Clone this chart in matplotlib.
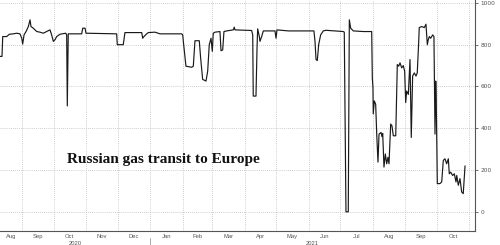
import matplotlib
matplotlib.use('Agg')
import matplotlib.pyplot as plt
import matplotlib.dates as mdates
import matplotlib.transforms as mtransforms
import numpy as np
import pandas as pd

start = pd.Timestamp('2020-08-11')
days = [0, 1.9, 2.6, 6.4, 8.9, 12.7, 15.9, 19, 20.7, 21.6, 22.9, 24.8, 27, 28.6,
        29.5, 31.7, 35, 38.1, 41.2, 44.5, 47.6, 49.2, 50.8, 52.4, 54, 57.1, 62.6,
        63.5, 64.1, 65, 77.8, 78.8, 81, 81.9, 111.1, 111.7, 117.4, 119, 135, 135.9,
        137.1, 139.7, 141.2, 147.6, 152.4, 173, 174, 174.6, 177.1, 182.6, 184.1,
        185.7, 189.8, 191.1, 193, 196.2, 197.8, 199.3, 201, 202.2, 203.1, 204.8,
        209.5, 210.5, 212.1, 213.3, 215.9, 222.2, 223.1, 223.8, 239.7, 240.7,
        241.2, 243.8, 244.8, 245.4, 247, 247.6, 249.2, 250.8, 261.9, 262.9, 263.8,
        274.6, 299, 300, 301, 302.2, 303.5, 305.4, 307.9, 310.5, 327, 327.9, 329.5,
        331.7, 332.7, 334, 336.5, 346, 354, 354.6, 355.2, 355.5, 356.5, 357.8,
        358.8, 360, 361, 362.9, 363.8, 364.5, 365.7, 367, 368.3, 369.5, 370.5,
        372.1, 373.3, 374.6, 376.9, 378.4, 379.7, 381, 382.6, 384.1, 385.4, 386.4,
        387.3, 388.9, 390.5, 391.7, 393, 394.6, 396.2, 397.4, 398.8, 399.3, 401.6,
        404.1, 405.7, 407, 407.9, 408.9, 410.2, 412.1, 413.3, 414.3, 415, 415.5,
        416.5, 419, 420.7, 422.2, 423.8, 425.4, 427, 427.9, 429.2, 431.1, 432.7,
        434.3, 435, 436.5, 438.1, 439.7, 441.2, 442.9]
flow = [744, 744, 839, 839, 850, 852, 855, 852, 831, 803, 847, 863, 887, 919,
        887, 879, 863, 860, 855, 863, 871, 847, 816, 824, 839, 850, 855,
        847, 507, 852, 852, 879, 879, 855, 852, 800, 800, 858, 858, 831,
        839, 852, 858, 860, 852, 852, 847, 816, 697, 692, 697,
        819, 819, 736, 634, 626, 673, 800, 831, 768, 855, 860,
        863, 771, 775, 863, 866, 871, 884, 871, 868, 847,
        554, 554, 784, 876, 839, 816, 839, 866, 866, 831, 871,
        866, 866, 816, 729, 724, 800, 847, 866, 869, 863, 860, 0,
        0, 919, 879, 866, 863, 863, 641, 594, 469, 531, 515,
        372, 238, 372, 380, 360, 375, 214, 277, 230, 261, 230,
        420, 412, 364, 364, 705, 697, 713, 689, 700, 673, 523,
        578, 562, 729, 356, 650, 665, 650, 665, 816, 882, 887,
        882, 898, 800, 824, 839, 831, 847, 839, 372, 626, 531,
        135, 135, 143, 246, 254, 230, 254, 182, 190, 174, 182,
        143, 174, 127, 159, 95, 87, 218.8186]
last_label = '218.8186'
title = 'Russian gas transit to Europe'
y_ticks = [0, 200, 400, 600, 800, 1000]

dates = start + pd.to_timedelta(days, unit='D')
x_end = start + pd.Timedelta(days=452.4)

fig = plt.figure(figsize=(5, 2.45), dpi=100)
ax = fig.add_axes([0, 0.057, 0.95, 0.943])

ax.plot(dates, flow, color='#1a1a1a', lw=0.85)
ax.set_xlim(start, x_end)
ax.set_ylim(-92, 1014)

for s in ['top', 'left']:
    ax.spines[s].set_visible(False)
for s in ['bottom', 'right']:
    ax.spines[s].set_color('#555555')
    ax.spines[s].set_linewidth(0.8)

ax.yaxis.tick_right()
ax.set_yticks(y_ticks)
ax.set_yticklabels([str(v) for v in y_ticks])
ax.tick_params(axis='y', direction='out', length=2.5, width=0.6, color='#555555',
               labelsize=4.2, labelcolor='#555555', pad=1.5)

months = pd.date_range('2020-08-01', '2021-11-01', freq='MS')
ax.set_xticks(months[1:])
ax.tick_params(axis='x', length=0, labelbottom=False)
ax.grid(True, color='#bdbdbd', linestyle=(0, (1, 1.5)), linewidth=0.6)

trans = mtransforms.blended_transform_factory(ax.transData, ax.transAxes)
x0 = mdates.date2num(start)
x1 = mdates.date2num(x_end)
for m0, m1 in zip(months[:-1], months[1:]):
    a = max(mdates.date2num(m0), x0)
    b = min(mdates.date2num(m1), x1)
    if b - a < 10:
        continue
    ax.text((a + b) / 2, -0.012, m0.strftime('%b'), transform=trans, ha='center',
            va='top', fontsize=4.2, color='#555555', family='Liberation Sans')

for yr in [2020, 2021]:
    a = max(mdates.date2num(pd.Timestamp(f'{yr}-01-01')), x0)
    b = min(mdates.date2num(pd.Timestamp(f'{yr + 1}-01-01')), x1)
    ax.text((a + b) / 2, -0.045, str(yr), transform=trans, ha='center', va='top',
            fontsize=4.2, color='#555555', family='Liberation Sans')

# year separator below the axis
jan = mdates.date2num(pd.Timestamp('2021-01-01'))
ax.plot([jan, jan], [-0.03, -0.06], transform=trans, color='#888888', lw=0.5,
        clip_on=False)

ax.text(0.141, 0.31, title, transform=ax.transAxes, fontsize=11, fontweight='bold',
        family='Liberation Serif', color='#111111', va='center', ha='left')

ax.annotate(last_label, xy=(1.0, flow[-1]), xycoords=trans,
            xytext=(1.013, flow[-1]), textcoords=trans,
            fontsize=3.8, color='white', va='center', ha='left',
            family='Liberation Sans', fontweight='bold',
            bbox=dict(boxstyle='square,pad=0.25', fc='black', ec='black'))

fig.savefig('out.png', dpi=100)
